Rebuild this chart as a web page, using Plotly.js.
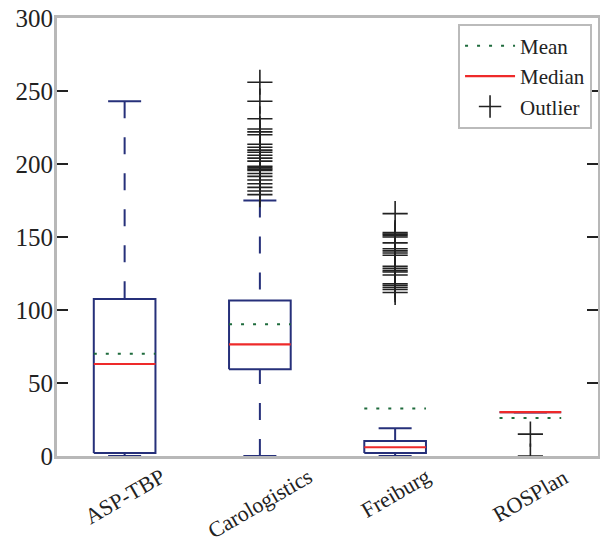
<!DOCTYPE html>
<html>
<head>
<meta charset="utf-8">
<script src="https://cdn.plot.ly/plotly-3.0.1.min.js"></script>
<style>html,body{margin:0;padding:0;background:#fff;}#chart{width:600px;height:544px;}</style>
</head>
<body>
<div id="chart"></div>
<script>
const categories = ['ASP-TBP', 'Carologistics', 'Freiburg', 'ROSPlan'];
const q1 = [2, 59.5, 2, 30];
const medians = [63, 76.5, 6, 30];
const q3 = [107.5, 106.5, 10.3, 30];
const whiskerLow = [0, 0, 0, 30];
const whiskerHigh = [243, 175, 19, 30];
const means = [70, 90.3, 32.5, 26];
const yTicks = [0, 50, 100, 150, 200, 250, 300];
const outliersASP = [];
const outliersCarologistics = [256, 243, 231, 224, 222, 220, 213.5, 211.5, 209.5, 208, 206, 204, 202, 198.5, 197.5, 196.5, 195.5, 193.5, 191.5, 189, 186.5, 184, 181.5, 179];
const outliersFreiburg = [166, 153, 152, 151, 150, 146, 142, 140.5, 139, 137.5, 130, 128.5, 127, 126, 124, 118, 117, 115.5, 114, 112];
const outliersROSPlan = [15, 0];
const outlierLists = [outliersASP, outliersCarologistics, outliersFreiburg, outliersROSPlan];

const NAVY = '#26307a', RED = '#ee2a2a', GREEN = '#1e6b3c', INK = '#222222';
const FONT = '"Liberation Serif", serif';
const boxHalf = 0.228, capHalf = 0.122;
const pos = categories.map((_, i) => i + 1);

const traces = [];
const bx = [], by = [];
pos.forEach((p, i) => {
  bx.push(p - boxHalf, p + boxHalf, p + boxHalf, p - boxHalf, p - boxHalf, null);
  by.push(q1[i], q1[i], q3[i], q3[i], q1[i], null);
});
traces.push({x: bx, y: by, mode: 'lines', line: {color: NAVY, width: 2}, showlegend: false, hoverinfo: 'skip'});
pos.forEach((p, i) => {
  if (whiskerHigh[i] > q3[i]) traces.push({x: [p, p], y: [whiskerHigh[i], q3[i]], mode: 'lines', line: {color: NAVY, width: 2, dash: '17px,19px'}, showlegend: false, hoverinfo: 'skip'});
  if (whiskerLow[i] < q1[i]) traces.push({x: [p, p], y: [whiskerLow[i], q1[i]], mode: 'lines', line: {color: NAVY, width: 2, dash: '17px,19px'}, showlegend: false, hoverinfo: 'skip', cliponaxis: false});
});
const cx = [], cy = [];
pos.forEach((p, i) => {
  cx.push(p - capHalf, p + capHalf, null, p - capHalf, p + capHalf, null);
  cy.push(whiskerHigh[i], whiskerHigh[i], null, whiskerLow[i], whiskerLow[i], null);
});
traces.push({x: cx, y: cy, mode: 'lines', line: {color: NAVY, width: 2}, showlegend: false, hoverinfo: 'skip', cliponaxis: false});
pos.forEach((p, i) => {
  traces.push({x: [p - boxHalf, p + boxHalf], y: [means[i], means[i]], mode: 'lines', name: 'Mean', legendrank: 1,
    line: {color: GREEN, width: 2, dash: '3px,9px'}, showlegend: i === 0, hoverinfo: 'skip'});
});
const mx = [], my = [];
pos.forEach((p, i) => { mx.push(p - boxHalf, p + boxHalf, null); my.push(medians[i], medians[i], null); });
traces.push({x: mx, y: my, mode: 'lines', name: 'Median', legendrank: 2, line: {color: RED, width: 2.2}, hoverinfo: 'skip'});
const ox = [], oy = [];
outlierLists.forEach((list, i) => list.forEach(v => { ox.push(pos[i]); oy.push(v); }));
traces.push({x: ox, y: oy, mode: 'markers', name: 'Outlier', legendrank: 3,
  marker: {symbol: 'cross-thin', size: 18, line: {color: INK, width: 1.6}}, hoverinfo: 'skip'});

const annotations = categories.map((c, i) => ({
  x: pos[i], y: 0, xref: 'x', yref: 'paper', yanchor: 'top', xanchor: 'center', yshift: -5,
  text: c, textangle: -30, showarrow: false, font: {family: FONT, size: 22, color: INK}
}));

const layout = {
  width: 600, height: 544,
  margin: {l: 57, r: 2, t: 18, b: 88, pad: 0},
  paper_bgcolor: '#ffffff', plot_bgcolor: '#ffffff',
  font: {family: FONT, size: 24, color: INK},
  xaxis: {range: [0.5, 4.5], showgrid: false, zeroline: false, showticklabels: false, ticks: '',
    showline: true, linecolor: '#b8b8b8', linewidth: 3, mirror: true, layer: 'below traces'},
  yaxis: {range: [0, 300], tickmode: 'array', tickvals: yTicks, ticktext: yTicks.map(String), showgrid: false, zeroline: false,
    ticks: 'inside', ticklen: 11, tickwidth: 2, tickcolor: INK, showline: true, linecolor: '#b8b8b8', linewidth: 3,
    mirror: 'allticks', layer: 'below traces', tickfont: {family: FONT, size: 25, color: INK}, ticklabelstandoff: -4, automargin: false},
  legend: {x: 0.989, y: 0.987, xanchor: 'right', yanchor: 'top', bgcolor: '#ffffff', bordercolor: '#bbbbbb', borderwidth: 2,
    font: {family: FONT, size: 21, color: INK}, itemwidth: 50, tracegroupgap: 0},
  annotations: annotations,
  showlegend: true
};

Plotly.newPlot('chart', traces, layout, {displayModeBar: false, staticPlot: true});
</script>
</body>
</html>
